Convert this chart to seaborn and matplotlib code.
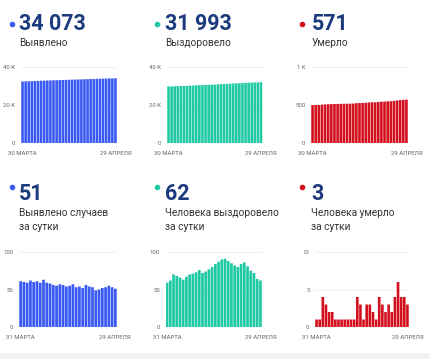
import pandas as pd
import seaborn as sns
import matplotlib.pyplot as plt
from matplotlib.lines import Line2D
from matplotlib.patches import Rectangle

# Canvas size in pixels (dpi 100)
W, H = 430, 359

# Tick labels
top_dates = ["30 МАРТА", "29 АПРЕЛЯ"]
bottom_dates = ["31 МАРТА", "29 АПРЕЛЯ"]

# Cumulative series, 30 March - 29 April
total_cases = [32396, 32457, 32517, 32576, 32638, 32698, 32759, 32818, 32881, 32940,
               32998, 33054, 33109, 33166, 33222, 33276, 33331, 33388, 33441, 33495,
               33547, 33603, 33657, 33710, 33759, 33809, 33861, 33914, 33969, 34022, 34073]
total_recovered = [29734, 29793, 29855, 29925, 29993, 30059, 30122, 30189, 30259, 30330,
                   30403, 30479, 30551, 30625, 30702, 30782, 30866, 30953, 31043, 31134,
                   31222, 31307, 31389, 31469, 31553, 31639, 31720, 31795, 31867, 31931, 31993]
total_deaths = [499, 500, 501, 505, 508, 510, 512, 513, 514, 515, 516, 517, 518, 519,
                523, 526, 527, 530, 533, 535, 536, 540, 543, 545, 548, 550, 554, 560,
                564, 568, 571]

# Daily series, 31 March - 29 April
daily_cases = [61, 60, 59, 62, 60, 61, 59, 63, 59, 58, 56, 55, 57, 56, 54, 55, 57, 53,
               54, 52, 56, 54, 53, 49, 50, 52, 53, 55, 53, 51]
daily_recovered = [59, 62, 70, 68, 66, 63, 67, 70, 71, 73, 76, 72, 74, 77, 80, 84, 87,
                   90, 91, 88, 85, 82, 80, 84, 86, 81, 75, 72, 64, 62]
daily_deaths = [1, 1, 4, 3, 2, 2, 1, 1, 1, 1, 1, 1, 1, 4, 3, 1, 3, 3, 2, 1, 4, 3, 2, 3,
                2, 4, 6, 4, 4, 3]

headlines = ["34 073", "31 993", "571", "51", "62", "3"]
captions = [["Выявлено"], ["Выздоровело"], ["Умерло"],
            ["Выявлено случаев", "за сутки"],
            ["Человека выздоровело", "за сутки"],
            ["Человека умерло", "за сутки"]]

BLUE = "#3a5af3"
TEAL = "#1fc9a4"
RED = "#d2101e"
NAVY = "#1c3b7d"

sns.set_style("white")
plt.rcParams["font.family"] = ["Roboto", "DejaVu Sans"]

fig = plt.figure(figsize=(W / 100, H / 100), dpi=100)


def px_rect(l, t, r, b):
    return [l / W, 1 - b / H, (r - l) / W, (b - t) / H]


def draw_bars(rect, values, color, ymax, yticks, yticklabels, dates):
    ax = fig.add_axes(px_rect(*rect))
    df = pd.DataFrame({"day": range(len(values)), "value": values})
    sns.barplot(data=df, x="day", y="value", color=color, saturation=1,
                width=0.84, linewidth=0, ax=ax)
    # no pixel snapping so the thin gaps between bars look even
    for p in ax.patches:
        p.set_snap(False)
    ax.set_ylim(0, ymax)
    ax.set_xlim(-0.5, len(values) - 0.5)
    ax.set_yticks(yticks)
    ax.set_yticklabels(yticklabels)
    ax.set_xticks([0, len(values) - 1])
    ax.set_xticklabels(dates)
    ax.grid(axis="y", color="#ececec", linewidth=0.6)
    ax.set_axisbelow(True)
    sns.despine(ax=ax, left=True, bottom=True)
    ax.tick_params(length=0, labelsize=4.3, labelcolor="#666666")
    ax.tick_params(axis="y", pad=4)
    ax.tick_params(axis="x", pad=6)
    ax.set_xlabel("")
    ax.set_ylabel("")
    return ax


# top row: cumulative
draw_bars((21, 67, 117, 143), total_cases, BLUE, 40000, [0, 20000, 40000],
          ["0", "20 K", "40 K"], top_dates)
draw_bars((167, 67, 262.5, 143), total_recovered, TEAL, 40000, [0, 20000, 40000],
          ["0", "20 K", "40 K"], top_dates)
draw_bars((311, 67, 408, 143), total_deaths, RED, 1000, [0, 500, 1000],
          ["0", "500", "1 K"], top_dates)

# bottom row: per day
draw_bars((19, 252, 117, 327), daily_cases, BLUE, 100, [0, 50, 100],
          ["0", "50", "100"], bottom_dates)
draw_bars((165.5, 252, 262, 327), daily_recovered, TEAL, 100, [0, 50, 100],
          ["0", "50", "100"], bottom_dates)
draw_bars((315, 252, 409, 327), daily_deaths, RED, 10, [0, 5, 10],
          ["0", "5", "10"], bottom_dates)

# headline numbers, dots and captions
colors = [BLUE, TEAL, RED, BLUE, TEAL, RED]
dot_x = [12, 157, 302, 12, 157, 302]
text_x = [19, 165, 311.5, 19, 165, 311]
for i in range(6):
    lower = i >= 3
    dot_y = 187 if lower else 23.5
    num_y = 200 if lower else 30.5
    cap_y = 216.5 if lower else 45.5
    fig.add_artist(Line2D([dot_x[i] / W], [1 - dot_y / H], marker="o", markersize=3,
                          color=colors[i], transform=fig.transFigure))
    fig.text(text_x[i] / W, 1 - num_y / H, headlines[i], fontsize=15.5,
             fontweight="bold", color=NAVY, ha="left", va="baseline")
    for j, line in enumerate(captions[i]):
        fig.text(text_x[i] / W, 1 - (cap_y + j * 13.5) / H, line, fontsize=7.3,
                 color="#333333", ha="left", va="baseline")

# light grey strip at the bottom edge
fig.add_artist(Rectangle((0, 0), 1, 6 / H, transform=fig.transFigure,
                         facecolor="#f1f1f1", edgecolor="none"))

plt.savefig("out.png", dpi=100)
